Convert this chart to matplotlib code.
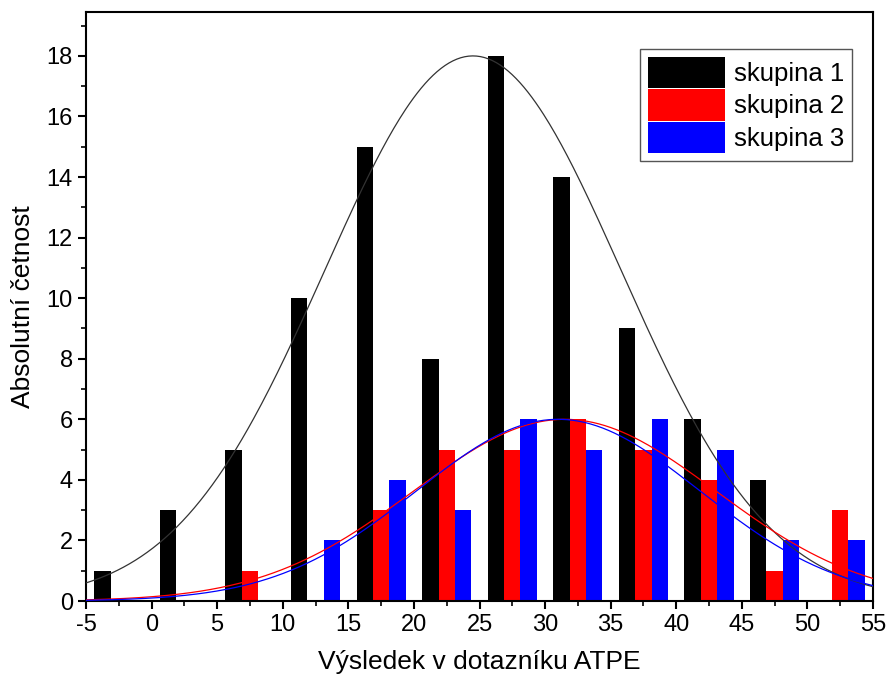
import numpy as np
import matplotlib
matplotlib.use("Agg")
import matplotlib.pyplot as plt
from matplotlib.ticker import MultipleLocator

plt.rcParams['font.family'] = ['Liberation Sans', 'DejaVu Sans']
plt.rcParams['axes.unicode_minus'] = False

# bin starts (width 5)
bins = [-5, 0, 5, 10, 15, 20, 25, 30, 35, 40, 45, 50]
skupina1 = [1, 3, 5, 10, 15, 8, 18, 14, 9, 6, 4, 0]
skupina2 = [0, 0, 1, 0, 3, 5, 5, 6, 5, 4, 1, 3]
skupina3 = [0, 0, 0, 2, 4, 3, 6, 5, 6, 5, 2, 2]

# fitted normal curves: (amplitude, mean, sigma)
fit1 = (18.0, 24.5, 11.3)
fit2 = (6.0, 31.5, 11.5)
fit3 = (6.0, 31.0, 10.8)

labels = ["skupina 1", "skupina 2", "skupina 3"]
colors = ["black", "red", "blue"]

fig = plt.figure(figsize=(8.88, 6.82), dpi=100)
ax = fig.add_axes([86 / 888, 81 / 682, 787 / 888, 589 / 682])

bw = 1.25
x = np.array(bins, dtype=float)
for i, (vals, lab, c) in enumerate(zip([skupina1, skupina2, skupina3], labels, colors)):
    ax.bar(x + bw * (i + 1), vals, width=bw, color=c, label=lab, zorder=2)

xs = np.linspace(-5, 55, 400)
for (a, m, s), c in zip([fit1, fit2, fit3], colors):
    lc = "#333333" if c == "black" else c
    ax.plot(xs, a * np.exp(-(xs - m) ** 2 / (2 * s ** 2)), color=lc, lw=0.9, zorder=3)

ax.set_xlim(-5, 55)
ax.set_ylim(0, 19.45)
ax.xaxis.set_major_locator(MultipleLocator(5))
ax.xaxis.set_minor_locator(MultipleLocator(2.5))
ax.yaxis.set_major_locator(MultipleLocator(2))
ax.yaxis.set_minor_locator(MultipleLocator(1))
ax.tick_params(which="major", direction="out", length=6, width=1.5, labelsize=17)
ax.tick_params(which="minor", direction="out", length=3.5, width=1.2)
for sp in ax.spines.values():
    sp.set_linewidth(1.5)

ax.set_xlabel("Výsledek v dotazníku ATPE", fontsize=19, labelpad=10)
ax.set_ylabel("Absolutní četnost", fontsize=19, labelpad=8)

leg = ax.legend(loc="upper right", bbox_to_anchor=(852 / 888, 633 / 682),
                bbox_transform=fig.transFigure, fontsize=18.5, fancybox=False,
                framealpha=1, edgecolor="#555555", handlelength=3.0, handleheight=1.5,
                handletextpad=0.35, labelspacing=0.05, borderpad=0.3, borderaxespad=0)
leg.get_frame().set_linewidth(1.0)

fig.savefig("out.png", dpi=100)
